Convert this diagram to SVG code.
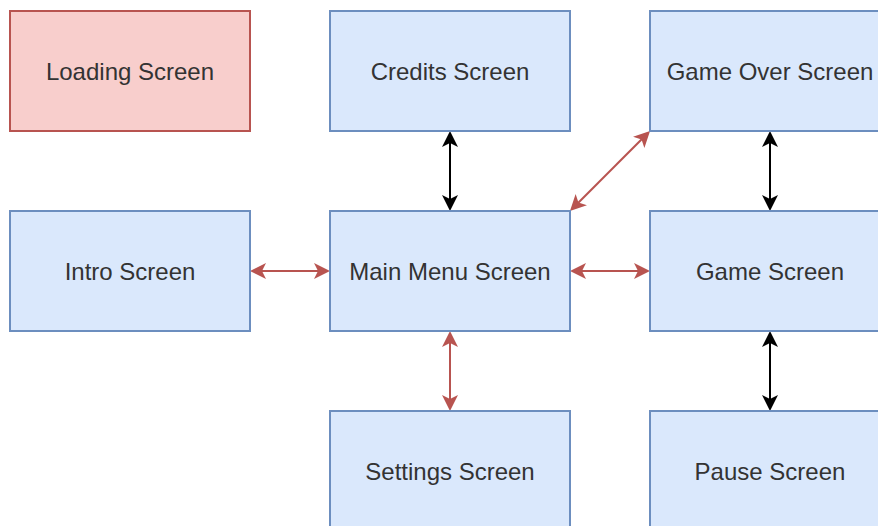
<svg xmlns="http://www.w3.org/2000/svg" width="878" height="526" viewBox="0 0 878 526">
<style>
.b{fill:#dae8fc;stroke:#6c8ebf;stroke-width:2}
.r{fill:#f8cecc;stroke:#b85450;stroke-width:2}
.t{font-family:"Liberation Sans",Arial,sans-serif;font-size:24px;fill:#333;text-anchor:middle}
.lr{stroke:#b85450;stroke-width:2;fill:none;marker-start:url(#ar);marker-end:url(#ar)}
.lk{stroke:#000;stroke-width:2;fill:none;marker-start:url(#ak);marker-end:url(#ak)}
</style>
<defs>
<marker id="ar" viewBox="0 -9 16 18" refX="12" refY="0" markerWidth="16" markerHeight="18" markerUnits="userSpaceOnUse" orient="auto-start-reverse"><path d="M0,-8 L16,0 L0,8 L4,0 Z" fill="#b85450"/></marker>
<marker id="ak" viewBox="0 -9 16 18" refX="12" refY="0" markerWidth="16" markerHeight="18" markerUnits="userSpaceOnUse" orient="auto-start-reverse"><path d="M0,-8 L16,0 L0,8 L4,0 Z" fill="#000"/></marker>
</defs>
<g id="connectors">
<line class="lr" x1="254" y1="271" x2="326" y2="271"/>
<line class="lr" x1="574" y1="271" x2="646" y2="271"/>
<line class="lk" x1="450" y1="135" x2="450" y2="207"/>
<line class="lr" x1="450" y1="335" x2="450" y2="407"/>
<line class="lk" x1="770" y1="135" x2="770" y2="207"/>
<line class="lk" x1="770" y1="335" x2="770" y2="407"/>
<line class="lr" x1="572.8" y1="208.2" x2="647.2" y2="133.8"/>
</g>
<g id="loading"><rect class="r" x="10" y="11" width="240" height="120"/><text class="t" x="130" y="80">Loading Screen</text></g>
<g id="credits"><rect class="b" x="330" y="11" width="240" height="120"/><text class="t" x="450" y="80">Credits Screen</text></g>
<g id="gameover"><rect class="b" x="650" y="11" width="240" height="120"/><text class="t" x="770" y="80">Game Over Screen</text></g>
<g id="intro"><rect class="b" x="10" y="211" width="240" height="120"/><text class="t" x="130" y="280">Intro Screen</text></g>
<g id="mainmenu"><rect class="b" x="330" y="211" width="240" height="120"/><text class="t" x="450" y="280">Main Menu Screen</text></g>
<g id="game"><rect class="b" x="650" y="211" width="240" height="120"/><text class="t" x="770" y="280">Game Screen</text></g>
<g id="settings"><rect class="b" x="330" y="411" width="240" height="120"/><text class="t" x="450" y="480">Settings Screen</text></g>
<g id="pause"><rect class="b" x="650" y="411" width="240" height="120"/><text class="t" x="770" y="480">Pause Screen</text></g>
</svg>
